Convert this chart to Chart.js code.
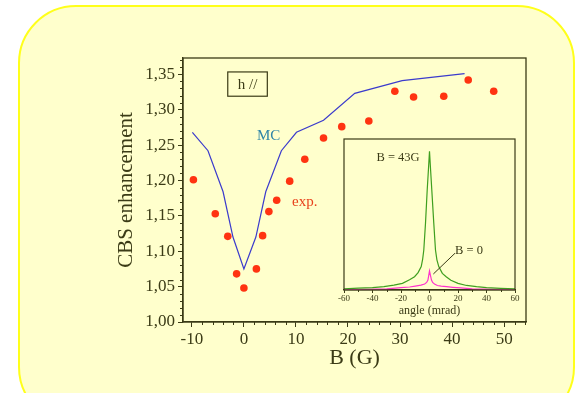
<!DOCTYPE html>
<html>
<head>
<meta charset="utf-8">
<script src="https://cdn.jsdelivr.net/npm/chart.js@4.4.1/dist/chart.umd.min.js"></script>
<style>
body { margin: 0; background: #fff; width: 575px; height: 393px; overflow: hidden; position: relative; }
#panel { position: absolute; left: 18px; top: 5px; width: 553px; height: 416px; border: 2px solid #ffff1a; border-radius: 58px; background: #ffffcc; }
#main { position: absolute; left: 0; top: 0; }
#inset { position: absolute; left: 300px; top: 120px; }
</style>
</head>
<body>
<div id="panel"></div>
<canvas id="main" width="575" height="393"></canvas>
<canvas id="inset" width="250" height="210"></canvas>
<script>
// Main plot: CBS enhancement vs magnetic field
const expB = [-9.7, -5.5, -3.1, -1.4, 0.0, 2.4, 3.6, 4.8, 6.3, 8.8, 11.7, 15.3, 18.8, 24.0, 29.0, 32.6, 38.4, 43.1, 48.0];
const expCbs = [1.201, 1.153, 1.121, 1.068, 1.048, 1.075, 1.122, 1.156, 1.172, 1.199, 1.230, 1.260, 1.276, 1.284, 1.326, 1.318, 1.319, 1.342, 1.326];
const mcB = [-9.9, -6.9, -4.0, -2.1, 0.0, 2.3, 4.2, 7.2, 10.1, 15.3, 21.3, 30.4, 42.4];
const mcCbs = [1.268, 1.242, 1.184, 1.120, 1.075, 1.120, 1.184, 1.242, 1.268, 1.285, 1.323, 1.341, 1.351];
const xTicks = [-10, 0, 10, 20, 30, 40, 50];
const yTicks = [1.00, 1.05, 1.10, 1.15, 1.20, 1.25, 1.30, 1.35];
const yTickLabels = ["1,00", "1,05", "1,10", "1,15", "1,20", "1,25", "1,30", "1,35"];

// Inset: backscattering cones
const angle43 = [-60, -50, -40, -32, -25, -19, -14, -10.5, -8, -5.8, -4.8, -4, -2.8, -1.6, -0.8, 0, 0.8, 1.6, 3, 4.2, 5.2, 6.5, 9, 11.7, 15, 20, 26, 33, 40, 50, 60];
const cone43 = [0.008, 0.012, 0.016, 0.022, 0.032, 0.044, 0.068, 0.088, 0.115, 0.155, 0.205, 0.265, 0.443, 0.664, 0.79, 0.918, 0.79, 0.664, 0.443, 0.265, 0.2, 0.155, 0.11, 0.088, 0.065, 0.044, 0.03, 0.022, 0.016, 0.011, 0.008];
const angle0 = [-60, -45, -30, -20, -14, -10, -6, -3.4, -2, -1.1, 0, 1.4, 2.2, 3.5, 5.5, 8.2, 12, 16.4, 22, 30, 45, 60];
const cone0 = [0.003, 0.005, 0.008, 0.016, 0.02, 0.026, 0.032, 0.04, 0.05, 0.066, 0.126, 0.066, 0.05, 0.04, 0.03, 0.026, 0.022, 0.018, 0.014, 0.008, 0.005, 0.003];
const insetTicks = [-60, -40, -20, 0, 20, 40, 60];

const ink = "#3b3b16";
const serif = "'Liberation Serif', 'DejaVu Serif', serif";

function toPoints(xs, ys) {
    return xs.map((x, i) => ({ x: x, y: ys[i] }));
}

// Frame, minor ticks and labels for the main plot
const mainDecor = {
    id: "mainDecor",
    afterDraw(chart) {
        const ctx = chart.ctx;
        const a = chart.chartArea;
        const xs = chart.scales.x;
        const ys = chart.scales.y;
        ctx.save();
        ctx.strokeStyle = ink;
        ctx.lineWidth = 1.3;
        ctx.strokeRect(a.left, a.top, a.right - a.left, a.bottom - a.top);

        // minor ticks
        ctx.lineWidth = 1;
        ctx.beginPath();
        for (let v = -10; v <= 54; v += 2) {
            if (v % 10 === 0) continue;
            const px = Math.round(xs.getPixelForValue(v)) + 0.5;
            ctx.moveTo(px, a.bottom);
            ctx.lineTo(px, a.bottom + 3);
        }
        for (let k = 100; k <= 137; k++) {
            if (k % 5 === 0) continue;
            const py = Math.round(ys.getPixelForValue(k / 100)) + 0.5;
            ctx.moveTo(a.left - 3, py);
            ctx.lineTo(a.left, py);
        }
        ctx.stroke();

        // "h //" box
        const bx1 = xs.getPixelForValue(-3.1), bx2 = xs.getPixelForValue(4.5);
        const by1 = ys.getPixelForValue(1.3533), by2 = ys.getPixelForValue(1.319);
        ctx.lineWidth = 1.2;
        ctx.strokeRect(bx1, by1, bx2 - bx1, by2 - by1);
        ctx.textAlign = "center";
        ctx.textBaseline = "middle";
        ctx.font = "15px " + serif;
        ctx.fillStyle = ink;
        ctx.fillText("h //", (bx1 + bx2) / 2, (by1 + by2) / 2 + 1);

        ctx.fillStyle = "#2f86a8";
        ctx.fillText("MC", xs.getPixelForValue(4.75), ys.getPixelForValue(1.2628));
        ctx.fillStyle = "#e8421c";
        ctx.fillText("exp.", xs.getPixelForValue(11.7), ys.getPixelForValue(1.169));
        ctx.restore();
    }
};

const insetDecor = {
    id: "insetDecor",
    afterDraw(chart) {
        const ctx = chart.ctx;
        const a = chart.chartArea;
        const xs = chart.scales.x;
        const ys = chart.scales.y;
        ctx.save();
        ctx.strokeStyle = ink;
        ctx.lineWidth = 1.2;
        ctx.strokeRect(a.left, a.top, a.right - a.left, a.bottom - a.top);

        ctx.lineWidth = 1;
        ctx.beginPath();
        for (let v = -50; v <= 50; v += 20) {
            const px = Math.round(xs.getPixelForValue(v)) + 0.5;
            ctx.moveTo(px, a.bottom);
            ctx.lineTo(px, a.bottom + 2);
        }
        // leader line for B = 0
        ctx.moveTo(xs.getPixelForValue(17.9), ys.getPixelForValue(0.2435));
        ctx.lineTo(xs.getPixelForValue(2.7), ys.getPixelForValue(0.106));
        ctx.stroke();

        ctx.fillStyle = ink;
        ctx.textAlign = "center";
        ctx.textBaseline = "middle";
        ctx.font = "12.5px " + serif;
        ctx.fillText("B = 43G", xs.getPixelForValue(-22.1), ys.getPixelForValue(0.876));
        ctx.fillText("B = 0", xs.getPixelForValue(27.7), ys.getPixelForValue(0.259));
        ctx.restore();
    }
};

// Main chart
new Chart(document.getElementById("main"), {
    type: "scatter",
    data: {
        datasets: [
            {
                label: "MC",
                data: toPoints(mcB, mcCbs),
                showLine: true,
                borderColor: "#3b3bcc",
                borderWidth: 1.2,
                pointRadius: 0,
                tension: 0
            },
            {
                label: "exp.",
                data: toPoints(expB, expCbs),
                pointRadius: 3.8,
                pointBackgroundColor: "#ff3311",
                pointBorderWidth: 0,
                showLine: false
            }
        ]
    },
    options: {
        responsive: false,
        animation: false,
        layout: { padding: { left: 0, top: 58, right: 49, bottom: 0 } },
        plugins: { legend: { display: false }, tooltip: { enabled: false } },
        scales: {
            x: {
                type: "linear",
                min: -11.7,
                max: 54.2,
                afterFit: (s) => { s.height = 71; },
                afterBuildTicks: (s) => { s.ticks = xTicks.map(v => ({ value: v })); },
                grid: { drawOnChartArea: false, tickLength: 5, color: ink },
                border: { color: ink, width: 1.3 },
                ticks: { color: ink, padding: 2, font: { family: serif, size: 17 }, callback: (v) => String(v) },
                title: { display: true, text: "B (G)", color: ink, font: { family: serif, size: 22 }, padding: { top: 0, bottom: 22 } }
            },
            y: {
                type: "linear",
                min: 1.0,
                max: 1.373,
                afterFit: (s) => { s.width = 183; },
                afterBuildTicks: (s) => { s.ticks = yTicks.map(v => ({ value: v })); },
                grid: { drawOnChartArea: false, tickLength: 5, color: ink },
                border: { color: ink, width: 1.3 },
                ticks: { color: ink, padding: 3, font: { family: serif, size: 17 }, callback: (v, i) => yTickLabels[i] },
                title: { display: true, text: "CBS enhancement", color: ink, font: { family: serif, size: 21 }, padding: { top: 114, bottom: 0 } }
            }
        }
    },
    plugins: [mainDecor]
});

// Inset chart
new Chart(document.getElementById("inset"), {
    type: "scatter",
    data: {
        datasets: [
            {
                label: "B = 43G",
                data: toPoints(angle43, cone43),
                showLine: true,
                borderColor: "#3f9f1f",
                borderWidth: 1.2,
                pointRadius: 0
            },
            {
                label: "B = 0",
                data: toPoints(angle0, cone0),
                showLine: true,
                borderColor: "#ff33cc",
                borderWidth: 1.2,
                pointRadius: 0
            }
        ]
    },
    options: {
        responsive: false,
        animation: false,
        layout: { padding: { left: 44, top: 19, right: 35, bottom: 0 } },
        plugins: { legend: { display: false }, tooltip: { enabled: false } },
        scales: {
            x: {
                type: "linear",
                min: -60,
                max: 60,
                afterFit: (s) => { s.height = 40; },
                afterBuildTicks: (s) => { s.ticks = insetTicks.map(v => ({ value: v })); },
                grid: { drawOnChartArea: false, tickLength: 3, color: ink },
                border: { color: ink, width: 1.2 },
                ticks: { color: ink, padding: 0, font: { family: serif, size: 9 }, callback: (v) => String(v) },
                title: { display: true, text: "angle (mrad)", color: ink, font: { family: serif, size: 12 }, padding: { top: 0, bottom: 12 } }
            },
            y: { display: false, min: 0, max: 1 }
        }
    },
    plugins: [insetDecor]
});
</script>
</body>
</html>
